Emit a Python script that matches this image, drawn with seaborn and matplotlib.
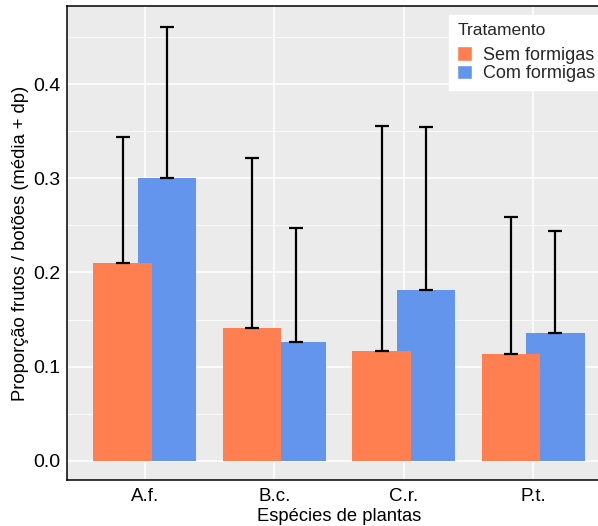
import pandas as pd
import numpy as np
import matplotlib
matplotlib.use("Agg")
import matplotlib.pyplot as plt
from matplotlib.ticker import MultipleLocator, FormatStrFormatter
import seaborn as sns

# valores (media e media + dp)
especies = ["A.f.", "B.c.", "C.r.", "P.t."]
tratamentos = ["Sem formigas", "Com formigas"]
media_sem = [0.210, 0.141, 0.117, 0.113]
media_com = [0.300, 0.126, 0.181, 0.136]
topo_sem = [0.344, 0.321, 0.355, 0.259]
topo_com = [0.460, 0.247, 0.354, 0.244]
cores = {"Sem formigas": "#FF7F50", "Com formigas": "#6495ED"}

df = pd.DataFrame({
    "especie": especies * 2,
    "tratamento": [tratamentos[0]] * 4 + [tratamentos[1]] * 4,
    "media": media_sem + media_com,
    "topo": topo_sem + topo_com,
})
df["dp"] = df["topo"] - df["media"]

sns.set_theme(style="darkgrid")
plt.rcParams["font.family"] = ["Liberation Sans", "DejaVu Sans"]

fig = plt.figure(figsize=(5.98, 5.26), dpi=100)
ax = fig.add_axes([67 / 598, 1 - 480 / 526, 544 / 598, 474 / 526])
ax.set_facecolor("#EBEBEB")

sns.barplot(data=df, x="especie", y="media", hue="tratamento",
            hue_order=tratamentos, palette=cores, order=especies,
            width=0.686, saturation=1, errorbar=None, ax=ax)

# barras mais largas que o deslocamento: "Sem" sobrepoe "Com"
larg = 0.45
for cont, trat in zip(ax.containers, tratamentos):
    sub = df[df["tratamento"] == trat].set_index("especie").loc[especies]
    xs = []
    for p in cont.patches:
        cx = p.get_x() + p.get_width() / 2
        p.set_width(larg)
        p.set_x(cx - larg / 2)
        p.set_linewidth(0)
        p.set_zorder(3 if trat == "Sem formigas" else 2)
        xs.append(cx)
    ax.errorbar(xs, sub["media"], yerr=[np.zeros(len(xs)), sub["dp"]],
                fmt="none", ecolor="black", elinewidth=1.6, capsize=4.8,
                capthick=1.6, zorder=4)

ax.set_xlim(-0.6, 3.6)
ax.set_ylim(-0.0202, 0.4828)
ax.yaxis.set_major_locator(MultipleLocator(0.1))
ax.yaxis.set_minor_locator(MultipleLocator(0.05))
ax.yaxis.set_major_formatter(FormatStrFormatter("%.1f"))
ax.grid(which="major", color="white", linewidth=1.1)
ax.grid(which="minor", axis="y", color="white", linewidth=0.55)
ax.set_axisbelow(True)
ax.tick_params(which="major", length=3, width=1, color="#333333",
               labelsize=14, labelcolor="black", pad=2)
ax.tick_params(axis="x", labelsize=13.5, pad=3)
ax.tick_params(which="minor", length=0)
for s in ax.spines.values():
    s.set_visible(True)
    s.set_color("black")
    s.set_linewidth(1.1)

ax.set_xlabel("Espécies de plantas", fontsize=13.2, color="black", labelpad=2)
ax.set_ylabel("Proporção frutos / botões (média + dp)", fontsize=13.2,
              color="black", labelpad=3)

handles, labels = ax.get_legend_handles_labels()
leg = ax.legend(handles, labels, title="Tratamento", loc="upper left",
                bbox_to_anchor=(449 / 598, 1 - 15 / 526),
                bbox_transform=fig.transFigure, frameon=True, fancybox=False,
                facecolor="white", edgecolor="white", framealpha=1,
                fontsize=13, title_fontsize=12.5, alignment="left",
                handlelength=0.85, handleheight=0.85, handletextpad=0.6,
                labelspacing=0.05, borderpad=0.45, borderaxespad=0)
leg._legend_box.sep = 6

fig.savefig("out.png", dpi=100)
